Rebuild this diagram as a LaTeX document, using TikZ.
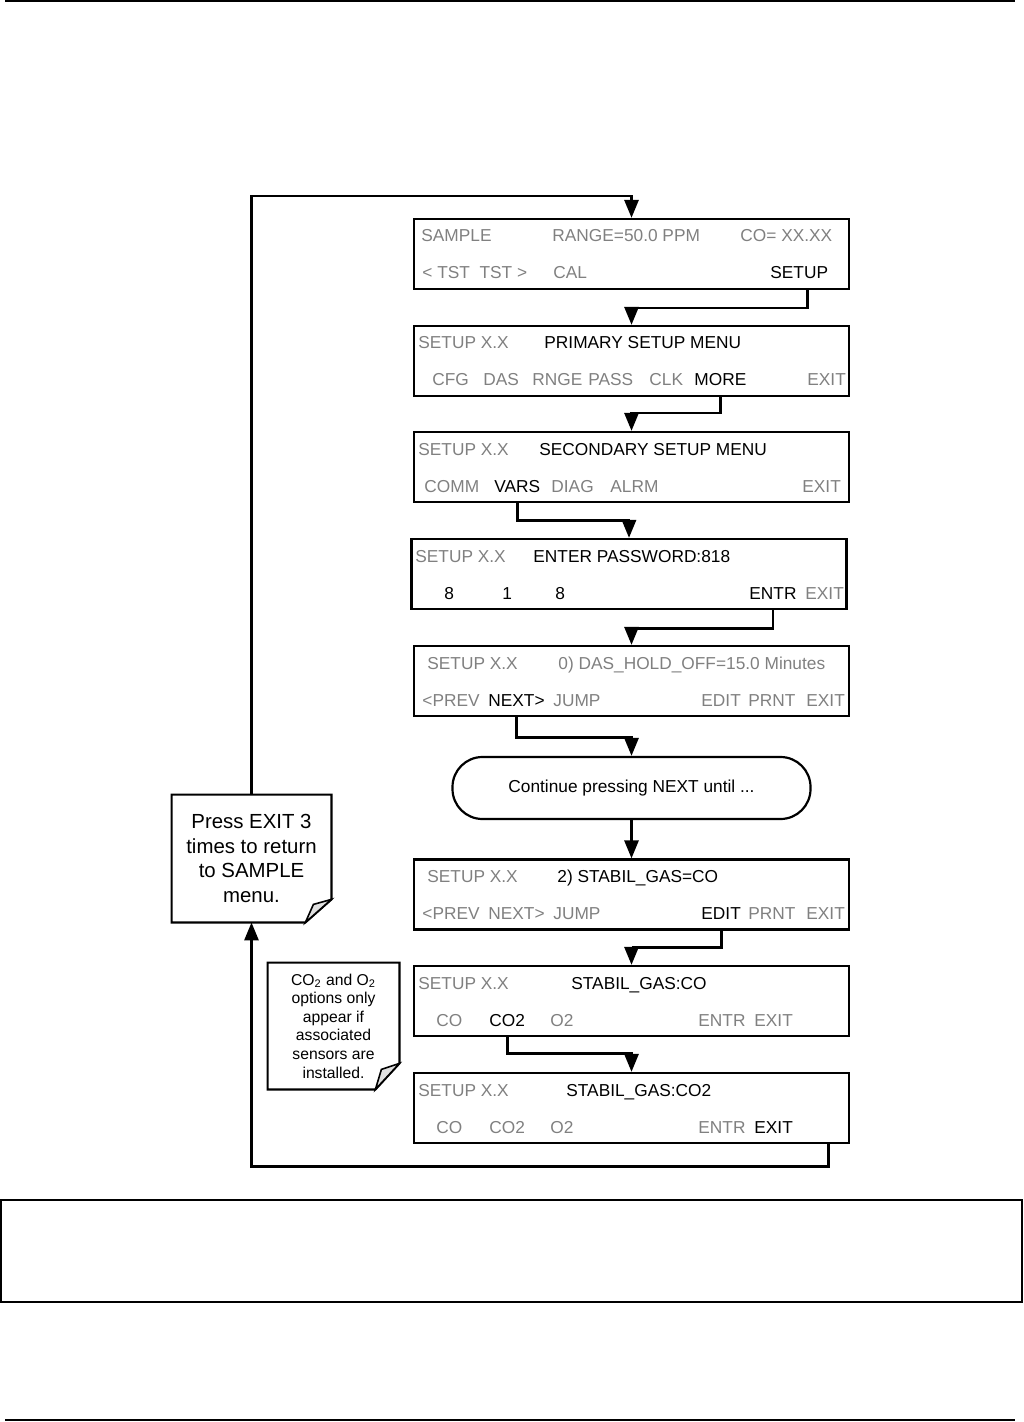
\documentclass[tikz,border=0pt]{standalone}
\usepackage{fontspec}
\setmainfont{Liberation Sans}
\usetikzlibrary{arrows.meta}
\definecolor{lcdgrey}{RGB}{128,128,128}
\newcommand{\lcdfont}{\fontsize{8.65}{10}\selectfont}
\newcommand{\foldnote}[4]{%
  \draw[line width=1.1pt] (#1.north west) -- (#1.north east)
    -- ([yshift=#2]#1.south east) -- ([xshift=-#3]#1.south east) -- (#1.south west) -- cycle;
  \draw[line width=0.8pt, fill=gray!25] ([yshift=#2]#1.south east)
    -- ([xshift=-9pt,yshift=#4]#1.south east) -- ([xshift=-#3]#1.south east) -- cycle;}
\tikzset{
  screen/.style={draw, line width=1.1pt, minimum width=217.5pt, minimum height=35pt, inner sep=0pt},
  lbl/.style={anchor=base west, inner sep=0pt, font=\lcdfont},
  dim/.style={lbl, text=lcdgrey},
  key/.style={lbl, text=black},
  conn/.style={line width=1.4pt, -{Triangle[length=9pt,width=7pt]}},
}
\begin{document}
\begin{tikzpicture}[x=0.5pt, y=-0.5pt]
        \useasboundingbox (0,0) rectangle (1023,1422);
        % page rules and caption frame
        \draw[line width=1pt] (5,1.5) -- (1015,1.5);
        \draw[line width=0.8pt] (1,1200) rectangle (1022,1302);
        \draw[line width=1pt] (5,1420) -- (1015,1420);

        % screens
        \node[screen] at (631.5,254) (scr1) {};
        \node[screen] at (631.5,361) (scr2) {};
        \node[screen] at (631.5,467) (scr3) {};
        \node[screen] at (629,574) (scr4) {};
        \node[screen] at (631.5,681) (scr5) {};
        \node[draw, line width=1.1pt, rounded corners=15pt, minimum width=179pt, minimum height=31pt, font=\lcdfont] at (631.5,788) (cont) {Continue pressing NEXT until ...};
        \node[screen] at (631.5,894.5) (scr6) {};
        \node[screen] at (631.5,1001) (scr7) {};
        \node[screen] at (631.5,1108) (scr8) {};

        % screen 1
        \node[dim] at (421,242) (s1a) {SAMPLE};
        \node[dim] at (552,242) (s1b) {RANGE=50.0 PPM};
        \node[dim] at (740,242) (s1c) {CO= XX.XX};
        \node[dim] at (422,279) (s1d) {< TST\ \ TST >};
        \node[dim] at (553,279) (s1e) {CAL};
        \node[key] at (770,279) (setup) {SETUP};
        % screen 2
        \node[dim] at (418,349) (s2a) {SETUP X.X};
        \node[key] at (544,349) (s2b) {PRIMARY SETUP MENU};
        \node[dim] at (432,386) (s2c) {CFG};
        \node[dim] at (483,386) (s2d) {DAS};
        \node[dim] at (532,386) (s2e) {RNGE};
        \node[dim] at (588,386) (s2f) {PASS};
        \node[dim] at (649,386) (s2g) {CLK};
        \node[key] at (694,386) (more) {MORE};
        \node[dim] at (807,386) (s2h) {EXIT};
        % screen 3
        \node[dim] at (418,455) (s3a) {SETUP X.X};
        \node[key] at (539,455) (s3b) {SECONDARY SETUP MENU};
        \node[dim] at (424,492) (s3c) {COMM};
        \node[key] at (494,492) (vars) {VARS};
        \node[dim] at (551,492) (s3d) {DIAG};
        \node[dim] at (610,492) (s3e) {ALRM};
        \node[dim] at (802,492) (s3f) {EXIT};
        % screen 4
        \node[dim] at (415,562) (s4a) {SETUP X.X};
        \node[key] at (533,562) (s4b) {ENTER PASSWORD:818};
        \node[key] at (444,599) (s4c) {8};
        \node[key] at (502,599) (s4d) {1};
        \node[key] at (555,599) (s4e) {8};
        \node[key] at (749,599) (entr) {ENTR};
        \node[dim] at (805,599) (s4f) {EXIT};
        % screen 5
        \node[dim] at (427,669) (s5a) {SETUP X.X};
        \node[dim] at (558,669) (s5b) {0) DAS\_HOLD\_OFF=15.0 Minutes};
        \node[dim] at (422,706) (s5c) {<PREV};
        \node[key] at (488,706) (next) {NEXT>};
        \node[dim] at (553,706) (s5d) {JUMP};
        \node[dim] at (701,706) (s5e) {EDIT};
        \node[dim] at (748,706) (s5f) {PRNT};
        \node[dim] at (806,706) (s5g) {EXIT};
        % screen 6
        \node[dim] at (427,882) (s6a) {SETUP X.X};
        \node[key] at (557,882) (s6b) {2) STABIL\_GAS=CO};
        \node[dim] at (422,919) (s6c) {<PREV};
        \node[dim] at (488,919) (s6d) {NEXT>};
        \node[dim] at (553,919) (s6e) {JUMP};
        \node[key] at (701,919) (edit) {EDIT};
        \node[dim] at (748,919) (s6f) {PRNT};
        \node[dim] at (806,919) (s6g) {EXIT};
        % screen 7
        \node[dim] at (418,989) (s7a) {SETUP X.X};
        \node[key] at (571,989) (s7b) {STABIL\_GAS:CO};
        \node[dim] at (436,1026) (s7c) {CO};
        \node[key] at (489,1026) (cotwo) {CO2};
        \node[dim] at (550,1026) (s7d) {O2};
        \node[dim] at (698,1026) (s7e) {ENTR};
        \node[dim] at (754,1026) (s7f) {EXIT};
        % screen 8
        \node[dim] at (418,1096) (s8a) {SETUP X.X};
        \node[key] at (566,1096) (s8b) {STABIL\_GAS:CO2};
        \node[dim] at (436,1133) (s8c) {CO};
        \node[dim] at (489,1133) (s8d) {CO2};
        \node[dim] at (550,1133) (s8e) {O2};
        \node[dim] at (698,1133) (s8f) {ENTR};
        \node[key] at (754,1133) (exitk) {EXIT};

        % notes
        \node[inner sep=0pt, align=center, minimum width=79.5pt, minimum height=63.5pt, font=\fontsize{10.2}{12.3}\selectfont] at (251.5,858.5) (note1) {Press EXIT 3\\times to return\\to SAMPLE\\menu.};
        \foldnote{note1}{11.5pt}{13pt}{9pt}
        \node[inner sep=0pt, align=center, minimum width=65.5pt, minimum height=63pt, font=\fontsize{7.85}{9.3}\selectfont] at (333.5,1026) (note2) {CO\textsubscript{2} and O\textsubscript{2}\\options only\\appear if\\associated\\sensors are\\installed.};
        \foldnote{note2}{13pt}{12pt}{10pt}

        % connectors
        \coordinate (looptop) at (631.5,196);
        \coordinate (setupdrop) at ([xshift=4pt]setup.south);
        \draw[conn] (note1.north) |- (looptop) -- (scr1.north);
        \draw[conn] (setupdrop |- scr1.south) -- ++(0,18) -| (scr2.north);
        \draw[conn] (more.south |- scr2.south) -- ++(0,16) -| (scr3.north);
        \draw[conn] (vars.south |- scr3.south) -- ++(0,17) -| (scr4.north);
        \draw[conn] (entr.south |- scr4.south) -- ++(0,18) -| (scr5.north);
        \draw[conn] (next.south |- scr5.south) -- ++(0,20) -| (cont.north);
        \draw[conn] (cont.south) -- (scr6.north);
        \draw[conn] (edit.south |- scr6.south) -- ++(0,17) -| (scr7.north);
        \draw[conn] (cotwo.south |- scr7.south) -- ++(0,16) -| (scr8.north);
        \draw[conn] ([xshift=-11pt]scr8.south east) -- ++(0,22) -| (note1.south);
    \end{tikzpicture}
\end{document}
